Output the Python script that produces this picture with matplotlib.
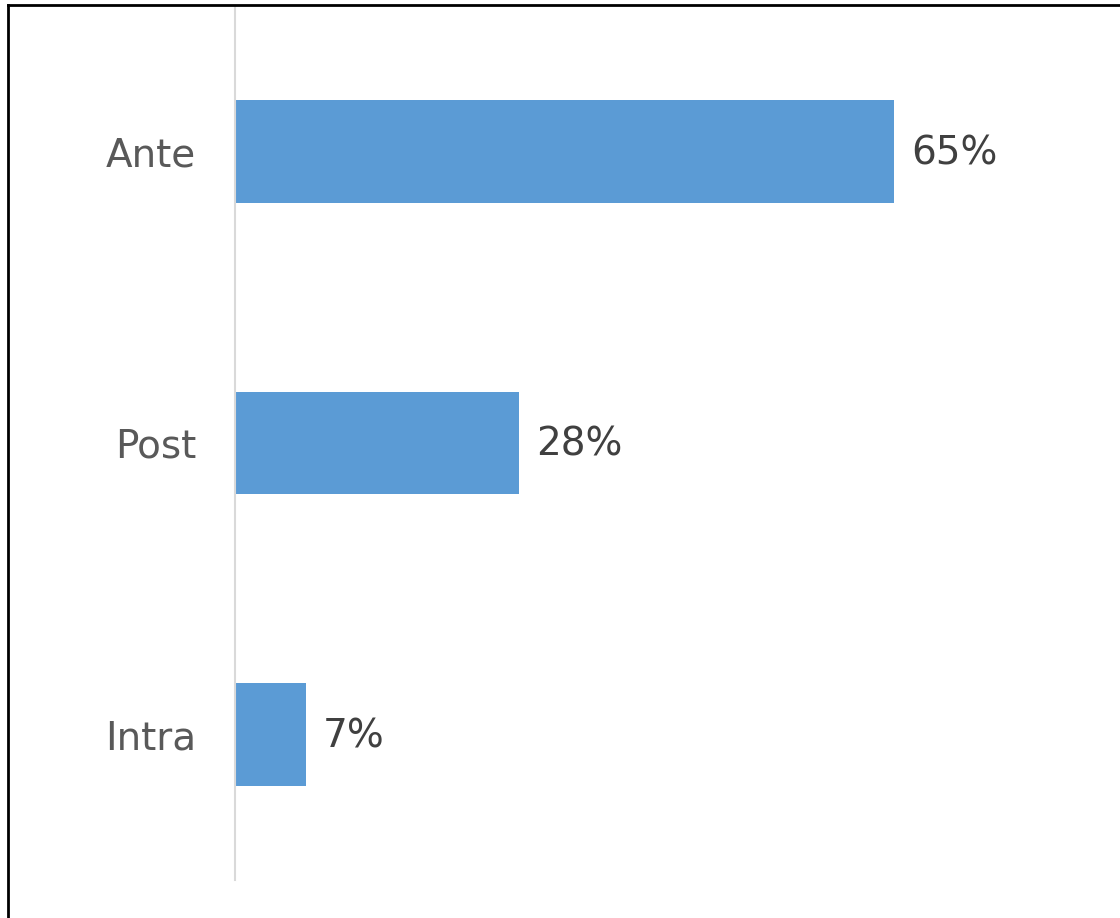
import matplotlib.pyplot as plt
from matplotlib.lines import Line2D

categories = ['Intra', 'Post', 'Ante']
values = [7, 28, 65]
labels = ['7%', '28%', '65%']

W, H = 1120, 918
fig = plt.figure(figsize=(W / 100, H / 100), dpi=100)
ax = fig.add_axes([235 / W, 1 - 880 / H, (1110 - 235) / W, (880 - 6) / H])

bars = ax.barh(categories, values, height=0.353, color='#5B9BD5')
ax.set_xlim(0, 86.3)
ax.set_ylim(-0.5, 2.5)

for rect, lab in zip(bars, labels):
    ax.annotate(lab, (rect.get_width(), rect.get_y() + rect.get_height() / 2),
                xytext=(17, -2), textcoords='offset pixels', va='center', ha='left',
                fontsize=28, color='#404040', family='DejaVu Sans')

for s in ['top', 'right', 'bottom']:
    ax.spines[s].set_visible(False)
ax.spines['left'].set_color('#D9D9D9')
ax.spines['left'].set_linewidth(1.5)
ax.set_xticks([])
ax.tick_params(axis='y', length=0, pad=28, labelsize=28, labelcolor='#595959')

# outer frame, cut off at right and bottom
fig.add_artist(Line2D([8 / W, 8 / W], [0, 1 - 5 / H], color='black', lw=2.0,
                      transform=fig.transFigure))
fig.add_artist(Line2D([8 / W, 1], [1 - 5 / H, 1 - 5 / H], color='black', lw=2.0,
                      transform=fig.transFigure))

fig.savefig('out.png', dpi=100)
